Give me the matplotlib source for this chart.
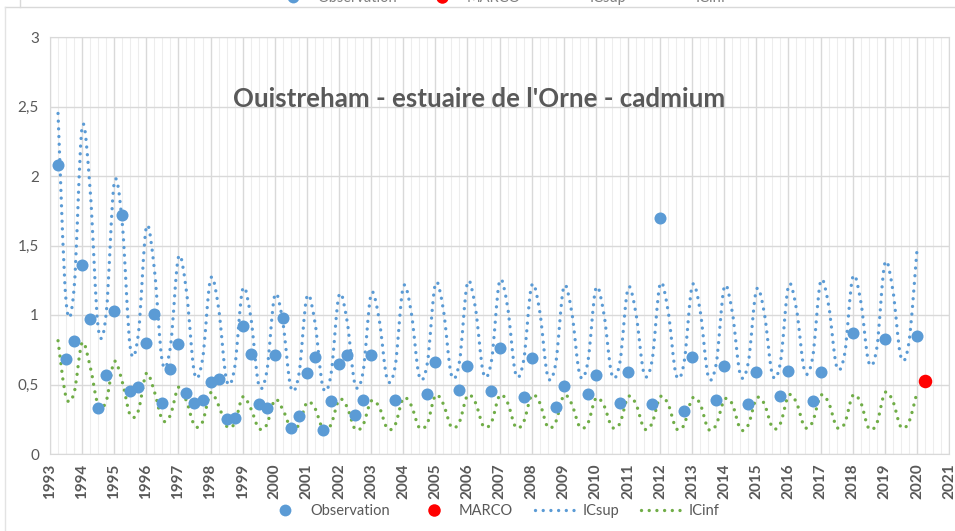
import numpy as np
import matplotlib
matplotlib.use("Agg")
import matplotlib.pyplot as plt
from matplotlib.path import Path
from matplotlib.patches import PathPatch
from matplotlib.lines import Line2D
from matplotlib.ticker import MultipleLocator, FuncFormatter

plt.rcParams['font.family'] = ['Lato', 'DejaVu Sans']

# %%
# observations (decimal year, value)
obs_dates = [1993.25, 1993.5, 1993.75, 1994.0, 1994.25, 1994.5, 1994.75, 1995.0,
             1995.25, 1995.5, 1995.75, 1996.0, 1996.25, 1996.5, 1996.75, 1997.0,
             1997.25, 1997.5, 1997.75, 1998.0, 1998.25, 1998.5, 1998.75, 1999.0,
             1999.25, 1999.5, 1999.75, 2000.0, 2000.25, 2000.5, 2000.75, 2001.0,
             2001.25, 2001.5, 2001.75, 2002.0, 2002.25, 2002.5, 2002.75, 2003.0,
             2003.75, 2004.75, 2005.0, 2005.75, 2006.0, 2006.75, 2007.0, 2007.75,
             2008.0, 2008.75, 2009.0, 2009.75, 2010.0, 2010.75, 2011.0, 2011.75,
             2012.0, 2012.75, 2013.0, 2013.75, 2014.0, 2014.75, 2015.0, 2015.75,
             2016.0, 2016.75, 2017.0, 2018.0, 2019.0, 2020.0]
obs_values = [2.08, 0.68, 0.81, 1.36, 0.97, 0.33, 0.57, 1.03,
              1.72, 0.45, 0.48, 0.80, 1.01, 0.37, 0.61, 0.79,
              0.44, 0.37, 0.39, 0.52, 0.54, 0.25, 0.26, 0.92,
              0.72, 0.36, 0.33, 0.71, 0.98, 0.19, 0.27, 0.58,
              0.70, 0.17, 0.38, 0.65, 0.71, 0.28, 0.39, 0.71,
              0.39, 0.43, 0.66, 0.46, 0.63, 0.45, 0.76, 0.41,
              0.69, 0.34, 0.49, 0.43, 0.57, 0.37, 0.59, 0.36,
              1.70, 0.31, 0.70, 0.39, 0.63, 0.36, 0.59, 0.42,
              0.60, 0.38, 0.59, 0.87, 0.83, 0.85]

marco_date = [2020.25]
marco_value = [0.525]

# confidence band, one value per quarter from 1993.25 to 2020.0
ic_start = 1993.25
ic_sup = [2.45, 1.10, 1.19,
          2.35, 1.90, 0.91, 1.01,
          1.95, 1.66, 0.765, 0.86,
          1.63, 1.33, 0.66, 0.77,
          1.415, 1.17, 0.58, 0.68,
          1.26, 1.05, 0.53, 0.62,
          1.185, 0.99, 0.50, 0.59,
          1.14, 0.95, 0.48, 0.57,
          1.13, 0.95, 0.48, 0.57,
          1.14, 0.96, 0.50, 0.59,
          1.15, 0.97, 0.54, 0.63,
          1.20, 1.02, 0.56, 0.65,
          1.22, 1.04, 0.57, 0.66,
          1.23, 1.05, 0.58, 0.67,
          1.24, 1.06, 0.58, 0.67,
          1.21, 1.03, 0.56, 0.65,
          1.20, 1.02, 0.57, 0.66,
          1.19, 1.01, 0.57, 0.66,
          1.19, 1.01, 0.58, 0.67,
          1.22, 1.03, 0.57, 0.66,
          1.21, 1.03, 0.56, 0.65,
          1.20, 1.02, 0.57, 0.66,
          1.18, 1.01, 0.57, 0.66,
          1.21, 1.04, 0.60, 0.69,
          1.24, 1.07, 0.63, 0.72,
          1.27, 1.10, 0.66, 0.76,
          1.37, 1.18, 0.70, 0.80,
          1.46]
ic_inf = [0.815, 0.41, 0.44,
          0.80, 0.63, 0.35, 0.38,
          0.665, 0.52, 0.28, 0.31,
          0.58, 0.45, 0.245, 0.28,
          0.48, 0.38, 0.205, 0.23,
          0.44, 0.35, 0.20, 0.22,
          0.41, 0.33, 0.185, 0.21,
          0.39, 0.32, 0.19, 0.21,
          0.37, 0.33, 0.18, 0.21,
          0.39, 0.34, 0.18, 0.21,
          0.38, 0.34, 0.185, 0.21,
          0.40, 0.35, 0.19, 0.22,
          0.42, 0.36, 0.195, 0.23,
          0.42, 0.37, 0.20, 0.23,
          0.42, 0.37, 0.195, 0.23,
          0.42, 0.37, 0.195, 0.23,
          0.42, 0.36, 0.195, 0.22,
          0.40, 0.35, 0.195, 0.22,
          0.41, 0.36, 0.185, 0.22,
          0.41, 0.36, 0.185, 0.21,
          0.40, 0.36, 0.18, 0.21,
          0.39, 0.36, 0.18, 0.21,
          0.40, 0.36, 0.19, 0.22,
          0.42, 0.37, 0.195, 0.23,
          0.42, 0.37, 0.195, 0.22,
          0.42, 0.37, 0.185, 0.22,
          0.44, 0.38, 0.195, 0.23,
          0.44]

years = list(range(1993, 2022))
title = "Ouistreham - estuaire de l'Orne - cadmium"
labels = ['Observation', 'MARCO', 'ICsup', 'ICinf']

BLUE = '#5B9BD5'
GREEN = '#70AD47'
RED = '#FF0000'
GREY = '#595959'


# %%
# smoothed line like the spreadsheet one (Catmull-Rom through the points)
def smooth_path(x, y):
    n = len(x)
    verts = [(x[0], y[0])]
    codes = [Path.MOVETO]
    for i in range(n - 1):
        xa, ya = (x[i - 1], y[i - 1]) if i > 0 else (x[i], y[i])
        xd, yd = (x[i + 2], y[i + 2]) if i + 2 < n else (x[i + 1], y[i + 1])
        c1 = (x[i] + (x[i + 1] - xa) / 6, y[i] + (y[i + 1] - ya) / 6)
        c2 = (x[i + 1] - (xd - x[i]) / 6, y[i + 1] - (yd - y[i]) / 6)
        verts += [c1, c2, (x[i + 1], y[i + 1])]
        codes += [Path.CURVE4] * 3
    return Path(verts, codes)


def legend_handles(blue, red, green):
    return [
        Line2D([], [], ls='none', marker='o', ms=8.5, color=blue, mew=0),
        Line2D([], [], ls='none', marker='o', ms=9, color=red, mew=0),
        Line2D([], [], color=blue, lw=2.4, ls=dots, dash_capstyle='round'),
        Line2D([], [], color=green, lw=2.4, ls=dots, dash_capstyle='round'),
    ]


dots = (0, (0.01, 2.3))

fig = plt.figure(figsize=(9.55, 5.31), dpi=100)
ax = fig.add_axes([50 / 955, 77 / 531, 899 / 955, 417 / 531])

ic_x = ic_start + 0.25 * np.arange(len(ic_sup))
for vals, col in [(ic_sup, BLUE), (ic_inf, GREEN)]:
    ax.add_patch(PathPatch(smooth_path(ic_x, vals), facecolor='none', edgecolor=col,
                           lw=2.4, linestyle=dots, capstyle='round', zorder=3))

ax.scatter(obs_dates, obs_values, s=75, color=BLUE, zorder=4, linewidths=0)
ax.scatter(marco_date, marco_value, s=95, color=RED, zorder=4, linewidths=0)

ax.set_xlim(1993, 2021)
ax.set_ylim(0, 3)
ax.set_xticks(years)
ax.set_xticklabels([str(y) for y in years], rotation=90, fontsize=11,
                   fontweight='bold', color=GREY)
ax.xaxis.set_minor_locator(MultipleLocator(0.25))
ax.yaxis.set_major_locator(MultipleLocator(0.5))
ax.yaxis.set_major_formatter(FuncFormatter(lambda v, p: f"{v:g}".replace('.', ',')))
ax.tick_params(axis='both', which='both', length=0, colors=GREY, labelsize=11)
ax.tick_params(axis='x', pad=7)
ax.tick_params(axis='y', pad=8)
ax.grid(True, which='major', color='#D9D9D9', lw=1.0, zorder=0)
ax.grid(True, which='minor', axis='x', color='#EDEDED', lw=0.8, zorder=0)
ax.set_axisbelow(True)
for side in ['left', 'bottom', 'right', 'top']:
    ax.spines[side].set_color('#D9D9D9')

ax.text(0.477, 0.852, title, transform=ax.transAxes, ha='center', va='center',
        fontsize=18.6, fontweight='bold', color=GREY)

leg_kw = dict(loc='center', ncol=4, frameon=False, fontsize=10.5, handlelength=3.1,
              handletextpad=0.15, columnspacing=1.5)
fig.legend(legend_handles(BLUE, RED, GREEN), labels, bbox_to_anchor=(0.514, 0.038),
           labelcolor=GREY, **leg_kw)

# clipped legend of the chart above and the frame edges
fig.legend(legend_handles(BLUE, RED, '#C5E0B4'), labels, bbox_to_anchor=(0.522, 1.004),
           labelcolor='#7F7F7F', **leg_kw)
fig.add_artist(Line2D([5 / 955, 1], [1 - 7 / 531] * 2, color='#D9D9D9', lw=1))
fig.add_artist(Line2D([5 / 955] * 2, [0, 1 - 7 / 531], color='#E3E3E3', lw=1))
fig.add_artist(Line2D([20 / 955] * 2, [1 - 7 / 531, 1], color='#D9D9D9', lw=1))

fig.savefig('out.png', dpi=100)
